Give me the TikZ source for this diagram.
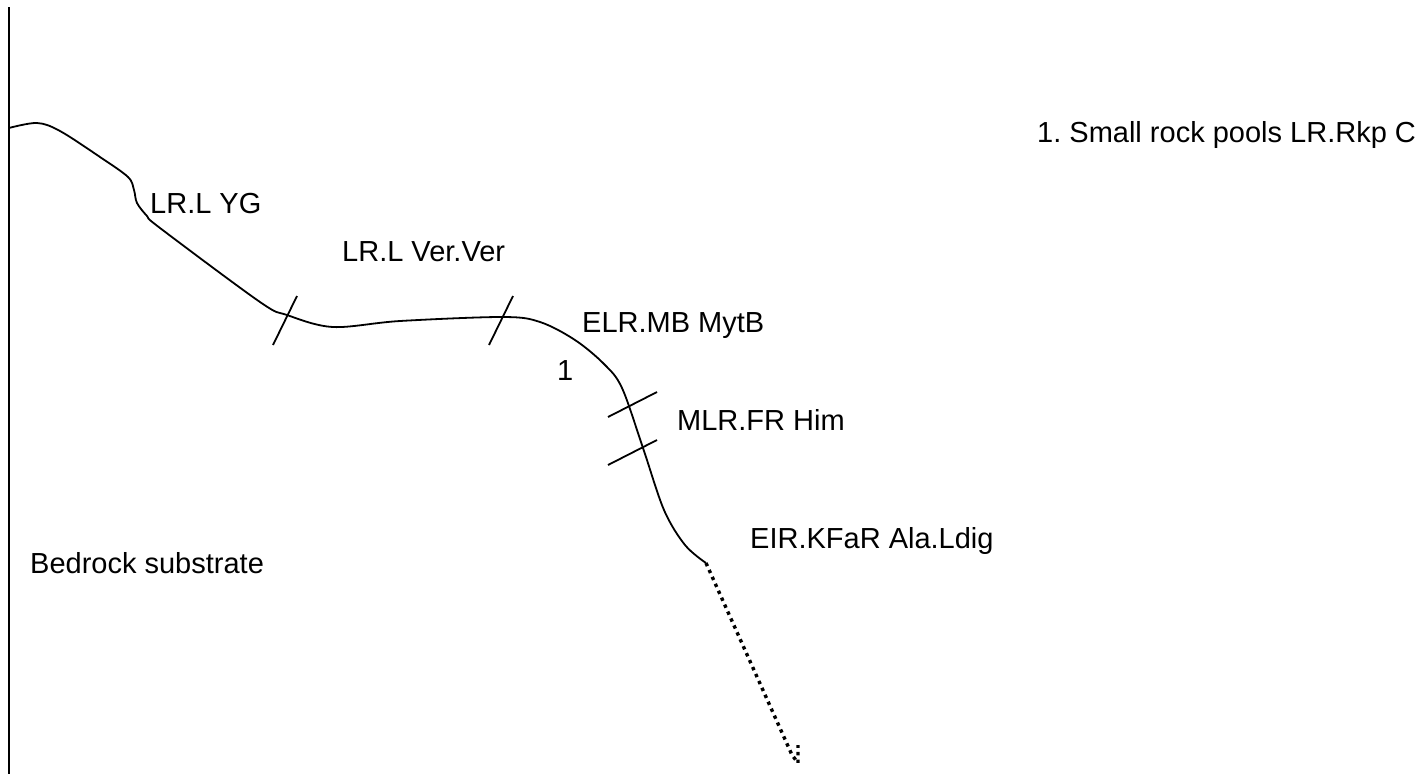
\documentclass[tikz,border=0pt]{standalone}
\usepackage{fontspec}
\setmainfont{Liberation Sans}
\frenchspacing
\usetikzlibrary{calc}
\tikzset{zonelabel/.style={anchor=base west, inner sep=0pt, font=\fontsize{29}{34}\selectfont}}

\begin{document}
\begin{tikzpicture}[x=1pt, y=-1pt]
			%%%%% START %%%%%
			\useasboundingbox (0, 0) rectangle (1419, 774);
			
			\draw[line width=2pt] (9, 7) -- (9, 774);
			
			\draw[line width=1.8pt] plot[smooth, tension=0.55] coordinates {(9, 128) (37, 123) (60, 131) (100, 157) (128, 177) (134, 190) (137, 203) (147, 216) (160, 228) (260, 302) (287, 315) (333, 327) (400, 321) (503, 317) (540, 322) (575, 340) (604, 364) (622, 388) (643, 448) (664, 510) (685, 545) (706, 563)};
			
			\draw[line width=1.8pt] (297, 296) -- (273, 345);
			\draw[line width=1.8pt] (513, 296) -- (489, 345);
			\draw[line width=1.8pt] (608, 417) -- (657, 392);
			\draw[line width=1.8pt] (608, 465) -- (657, 440);
			
			\draw[line width=3.4pt, dash pattern=on 3.4pt off 4.2pt] (706, 563) -- (792, 755) -- (798, 763) -- (798, 745);
			
			\node[zonelabel] (yg) at (150, 213) {LR.L YG};
			\node[zonelabel] (verver) at (342, 261) {LR.L Ver.Ver};
			\node[zonelabel] (mytb) at (582, 332) {ELR.MB MytB};
			\node[zonelabel] (pool) at (557, 380) {1};
			\node[zonelabel] (him) at (677, 430) {MLR.FR Him};
			\node[zonelabel] (ldig) at (750, 548) {EIR.KFaR Ala.Ldig};
			\node[zonelabel] (bedrock) at (30, 573) {Bedrock substrate};
			\node[zonelabel] (key) at (1037, 142) {1. Small rock pools LR.Rkp C};
			%%%%% END %%%%%
\end{tikzpicture}
\end{document}
